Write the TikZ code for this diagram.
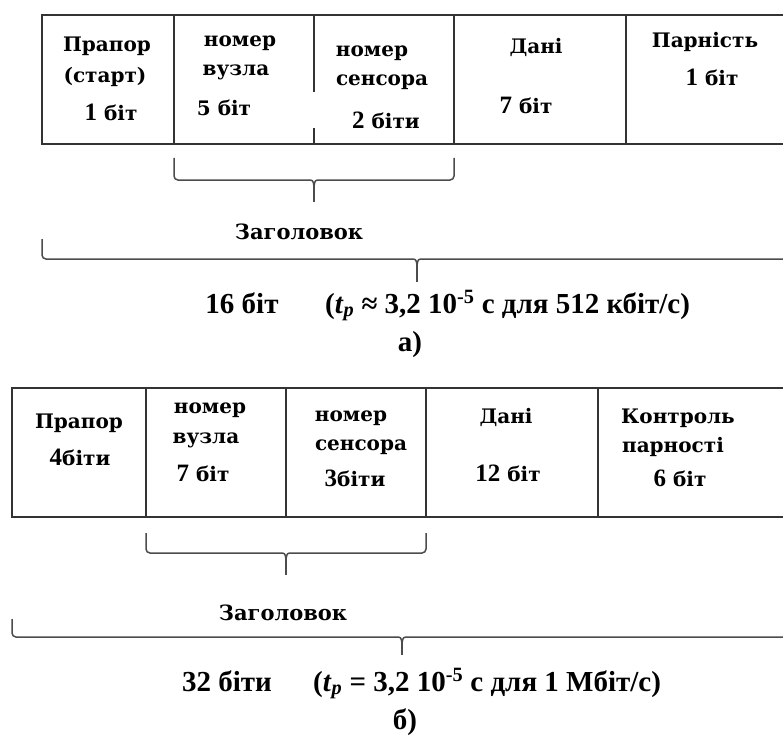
\documentclass[tikz,border=0pt]{standalone}
\usepackage{fontspec}
\setmainfont{Liberation Serif}
\newfontfamily\lblfont{DejaVu Serif}
\newfontfamily\digfont{Liberation Serif}
\newcommand{\dg}[1]{{\digfont\fontsize{25}{25}\selectfont #1}}
\newcommand{\hbrace}[6]{%
  \draw[bracestyle, rounded corners=4] (#1,#3) -- (#1,#4) -- (#5-7,#4);
  \draw[bracestyle, rounded corners=4] (#5+7,#4) -- (#2,#4) -- (#2,#3);
  \draw[bracestyle] (#5-7,#4) .. controls (#5-1,#4) .. (#5,#4+6) .. controls (#5+1,#4) .. (#5+7,#4);
  \draw[bracestyle] (#5,#4+6) -- (#5,#6);
}
\begin{document}
\begin{tikzpicture}[x=1pt,y=-1pt,
  frame/.style={draw=black!80, line width=1.8pt},
  bracestyle/.style={draw=black!70, line width=1.5pt},
  lbl/.style={inner sep=0, font=\lblfont\bfseries\fontsize{20}{22}\selectfont},
  head/.style={inner sep=0, font=\lblfont\bfseries\fontsize{21}{22}\selectfont},
  bot/.style={inner sep=0, font=\bfseries\fontsize{29}{30}\selectfont}]
\clip (0,0) rectangle (783,738);
\fill[white] (0,0) rectangle (783,738);
% ---------- a) ----------
\draw[frame] (850,15) -- (42,15) -- (42,144) -- (850,144);
\draw[frame] (174,15) -- (174,144);
\draw[frame] (314,15) -- (314,92);
\draw[frame] (314,128) -- (314,144);
\draw[frame] (454,15) -- (454,144);
\draw[frame] (626,15) -- (626,144);

\node[lbl] (a1a) at (107,46) {Прапор};
\node[lbl] (a1b) at (105,77) {(старт)};
\node[lbl] (a1c) at (111,112) {\dg{1} біт};
\node[lbl] (a2a) at (240,43) {номер};
\node[lbl] (a2b) at (236,72) {вузла};
\node[lbl] (a2c) at (224,108) {5 біт};
\node[lbl] (a3a) at (372,53) {номер};
\node[lbl] (a3b) at (382,82) {сенсора};
\node[lbl] (a3c) at (386,120) {\dg{2} біти};
\node[lbl] (a4a) at (536,47) {Дані};
\node[lbl] (a4b) at (526,105) {\dg{7} біт};
\node[lbl] (a5a) at (705,42) {Парність};
\node[lbl] (a5b) at (712,77) {\dg{1} біт};

\hbrace{174}{454}{158}{180}{314}{202}
\node[head] (ahead) at (299,232) {Заголовок};
\hbrace{42}{850}{239}{259}{417}{282}
\node[bot, anchor=base] (abits) at (242,313) {16 біт};
\node[bot, anchor=base west] (atp) at (325,313) {(\textit{t}\textsubscript{\textit{p}} ≈ 3,2 10\textsuperscript{-5} с для 512 кбіт/с)};
\node[bot] (alab) at (410,345) {а)};

% ---------- b) ----------
\draw[frame] (850,388) -- (12,388) -- (12,517) -- (850,517);
\draw[frame] (146,388) -- (146,517);
\draw[frame] (286,388) -- (286,517);
\draw[frame] (426,388) -- (426,517);
\draw[frame] (598,388) -- (598,517);

\node[lbl] (b1a) at (79,423) {Прапор};
\node[lbl] (b1b) at (80,457) {\dg{4}біти};
\node[lbl] (b2a) at (210,410) {номер};
\node[lbl] (b2b) at (206,440) {вузла};
\node[lbl] (b2c) at (203,473) {\dg{7} біт};
\node[lbl] (b3a) at (351,418) {номер};
\node[lbl] (b3b) at (361,447) {сенсора};
\node[lbl] (b3c) at (355,478) {\dg{3}біти};
\node[lbl] (b4a) at (506,417) {Дані};
\node[lbl] (b4b) at (508,473) {\dg{12} біт};
\node[lbl] (b5a) at (678,418) {Контроль};
\node[lbl] (b5b) at (673,447) {парності};
\node[lbl] (b5c) at (680,478) {\dg{6} біт};

\hbrace{146}{426}{533}{553}{286}{575}
\node[head] (bhead) at (283,613) {Заголовок};
\hbrace{12}{850}{619}{637}{402}{655}
\node[bot, anchor=base] (bbits) at (227,691) {32 біти};
\node[bot, anchor=base west] (btp) at (313,691) {(\textit{t}\textsubscript{\textit{p}} = 3,2 10\textsuperscript{-5} с для 1 Мбіт/с)};
\node[bot] (blab) at (405,722) {б)};
\end{tikzpicture}
\end{document}
